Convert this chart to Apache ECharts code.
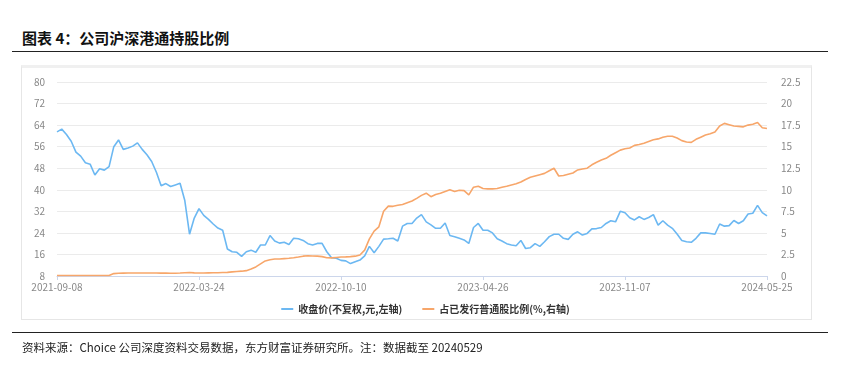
<html>
<head>
<meta http-equiv="Content-Type" content="text/html; charset=utf-8" />
<title>公司沪深港通持股比例</title>
<style type="text/css">
    * { margin: 0; padding: 0 }
    html, body { width: 851px; height: 369px; background: #fff; overflow: hidden; }
    .title {
        position: absolute; left: 22px; top: 27px;
        font-family: "Noto Sans CJK SC", sans-serif; font-weight: bold; font-size: 15px; color: #111;
    }
    .rule { position: absolute; left: 12px; width: 816px; height: 1px; background: #222; }
    .frame { position: absolute; left: 21px; top: 65px; width: 791px; height: 255px; border: 1px solid #e6e6e6; border-top: 3px solid #f0f0f0; box-sizing: border-box; }
    .note {
        position: absolute; left: 22px; top: 339px;
        font-family: "Noto Sans CJK SC", sans-serif; font-size: 11.5px; color: #222;
    }
    #chart { position: absolute; left: 0; top: 0; width: 851px; height: 369px; }
</style>
</head>
<body>
    <div class="title">图表 4：公司沪深港通持股比例</div>
    <div class="rule" style="top: 51px"></div>
    <div class="frame"></div>
    <div id="chart"></div>
    <div class="rule" style="top: 332px"></div>
    <div class="note">资料来源：Choice 公司深度资料交易数据，东方财富证券研究所。注：数据截至 20240529</div>
    <script src="https://cdn.jsdelivr.net/npm/echarts@6/dist/echarts.min.js"></script>
    <script>
        // 横轴刻度日期, 每段 30 个点
        const tickDates = ['2021-09-08', '2022-03-24', '2022-10-10', '2023-04-26', '2023-11-07', '2024-05-25'];
        const stepsPerSegment = 30;

        // 收盘价(不复权,元,左轴)
        const closePrice = [
            61.5, 62.5, 60.5, 58, 54, 52.5, 50, 49.5, 45.5, 47.8,
            47.3, 48.6, 56, 58.5, 55, 55.5, 56.2, 57.4, 55, 53,
            50.5, 46.5, 41.5, 42.3, 41.2, 41.8, 42.4, 36, 23.5, 29.5,
            33, 30.5, 29, 27.3, 25.8, 25, 18, 17, 16.8, 15.3,
            17, 17.6, 16.8, 19.5, 19.5, 23, 21, 20.2, 20.5, 19.7,
            22, 21.8, 21.2, 20, 19.5, 20.1, 20.1, 17, 14.8, 14.6,
            13.8, 13.6, 12.6, 13.3, 13.9, 15.5, 19, 16.6, 19, 21.7,
            21.8, 22, 21, 26.5, 27.5, 27.5, 29.5, 30.8, 28.1, 27,
            25.7, 25.7, 27.7, 23, 22.6, 22, 21.4, 20.1, 26, 27.5,
            25, 25, 24, 21.8, 21, 20, 19.5, 19.2, 21.2, 18.2,
            18.5, 20, 19, 20.7, 22.6, 23.5, 23.5, 22, 21.6, 23.5,
            24.4, 23.2, 23.8, 25.5, 25.6, 26, 27.5, 28.5, 28.1, 32,
            31.5, 29.6, 28.8, 30, 29, 29.7, 30.8, 26.9, 28.5, 26.9,
            25.7, 23.6, 21.2, 20.7, 20.5, 22, 24, 24, 23.8, 23.5,
            27.3, 26.5, 26.7, 28.6, 27.5, 28.5, 31, 31.3, 34.2, 31.5,
            30.3
        ];

        // 占已发行普通股比例(%,右轴)
        const holdRatio = [
            0.05, 0.05, 0.05, 0.05, 0.05, 0.05, 0.05, 0.05, 0.05, 0.05,
            0.05, 0.05, 0.28, 0.32, 0.33, 0.34, 0.34, 0.35, 0.35, 0.35,
            0.34, 0.34, 0.33, 0.33, 0.32, 0.32, 0.34, 0.38, 0.4, 0.36,
            0.35, 0.35, 0.36, 0.37, 0.38, 0.4, 0.42, 0.48, 0.52, 0.56,
            0.62, 0.8, 1.05, 1.4, 1.75, 1.88, 1.97, 1.98, 2.02, 2.06,
            2.12, 2.2, 2.3, 2.34, 2.32, 2.3, 2.25, 2.12, 2.1, 2.15,
            2.2, 2.22, 2.25, 2.3, 2.43, 3.0, 4.3, 5.2, 5.7, 7.5,
            8.1, 8.08, 8.2, 8.3, 8.5, 8.7, 9.0, 9.35, 9.6, 9.2,
            9.45, 9.6, 9.8, 10.0, 9.8, 9.95, 9.9, 9.4, 10.3, 10.4,
            10.15, 10.1, 10.1, 10.15, 10.3, 10.4, 10.55, 10.7, 10.9, 11.2,
            11.45, 11.6, 11.75, 11.9, 12.2, 12.5, 11.6, 11.65, 11.8, 11.95,
            12.3, 12.4, 12.5, 12.9, 13.2, 13.45, 13.65, 14.0, 14.3, 14.6,
            14.75, 14.85, 15.15, 15.25, 15.4, 15.6, 15.8, 15.9, 16.1, 16.2,
            16.2, 16.0, 15.7, 15.55, 15.5, 15.85, 16.1, 16.35, 16.5, 16.7,
            17.4, 17.7, 17.55, 17.4, 17.35, 17.3, 17.5, 17.6, 17.8, 17.2,
            17.1
        ];

        // 刻度之间的日期按日历均分, 只作类目名
        const pad = n => (n < 10 ? '0' : '') + n;
        const fmt = d => d.getUTCFullYear() + '-' + pad(d.getUTCMonth() + 1) + '-' + pad(d.getUTCDate());
        const dates = [];
        for (let s = 0; s < tickDates.length - 1; s++) {
            const a = Date.parse(tickDates[s]);
            const b = Date.parse(tickDates[s + 1]);
            for (let k = 0; k < stepsPerSegment; k++) {
                dates.push(k === 0 ? tickDates[s] : fmt(new Date(a + (b - a) * k / stepsPerSegment)));
            }
        }
        dates.push(tickDates[tickDates.length - 1]);

        const chart = echarts.init(document.getElementById('chart'));
        const labelStyle = { color: '#888', fontSize: 10, fontFamily: '"Noto Sans CJK SC", sans-serif' };
        chart.setOption({
            animation: false,
            grid: { left: 57, right: 84, top: 82, bottom: 93 },
            legend: {
                bottom: 50,
                left: 'center',
                itemWidth: 12,
                itemHeight: 2,
                itemGap: 20,
                icon: 'rect',
                textStyle: { color: '#333', fontSize: 10, fontWeight: 'bold', fontFamily: '"Noto Sans CJK SC", sans-serif' },
                data: ['收盘价(不复权,元,左轴)', '占已发行普通股比例(%,右轴)']
            },
            xAxis: {
                type: 'category',
                data: dates,
                boundaryGap: false,
                axisLine: { lineStyle: { color: '#ccd6eb' } },
                axisTick: { interval: stepsPerSegment - 1, length: 4, lineStyle: { color: '#ccd6eb' } },
                axisLabel: Object.assign({ interval: stepsPerSegment - 1, margin: 6 }, labelStyle)
            },
            yAxis: [
                {
                    type: 'value', min: 8, max: 80, interval: 8,
                    axisLine: { show: false }, axisTick: { show: false },
                    axisLabel: Object.assign({ margin: 12 }, labelStyle),
                    splitLine: { lineStyle: { color: '#ebebeb', width: 1 } }
                },
                {
                    type: 'value', min: 0, max: 22.5, interval: 2.5,
                    axisLine: { show: false }, axisTick: { show: false },
                    axisLabel: Object.assign({ margin: 14 }, labelStyle),
                    splitLine: { show: false }
                }
            ],
            series: [
                {
                    name: '收盘价(不复权,元,左轴)', type: 'line', yAxisIndex: 0,
                    data: closePrice, showSymbol: false,
                    itemStyle: { color: '#6cb8f2' },
                    lineStyle: { color: '#6cb8f2', width: 1.6 }
                },
                {
                    name: '占已发行普通股比例(%,右轴)', type: 'line', yAxisIndex: 1,
                    data: holdRatio, showSymbol: false,
                    itemStyle: { color: '#f7a66a' },
                    lineStyle: { color: '#f7a66a', width: 1.6 }
                }
            ]
        });
    </script>
</body>
</html>
